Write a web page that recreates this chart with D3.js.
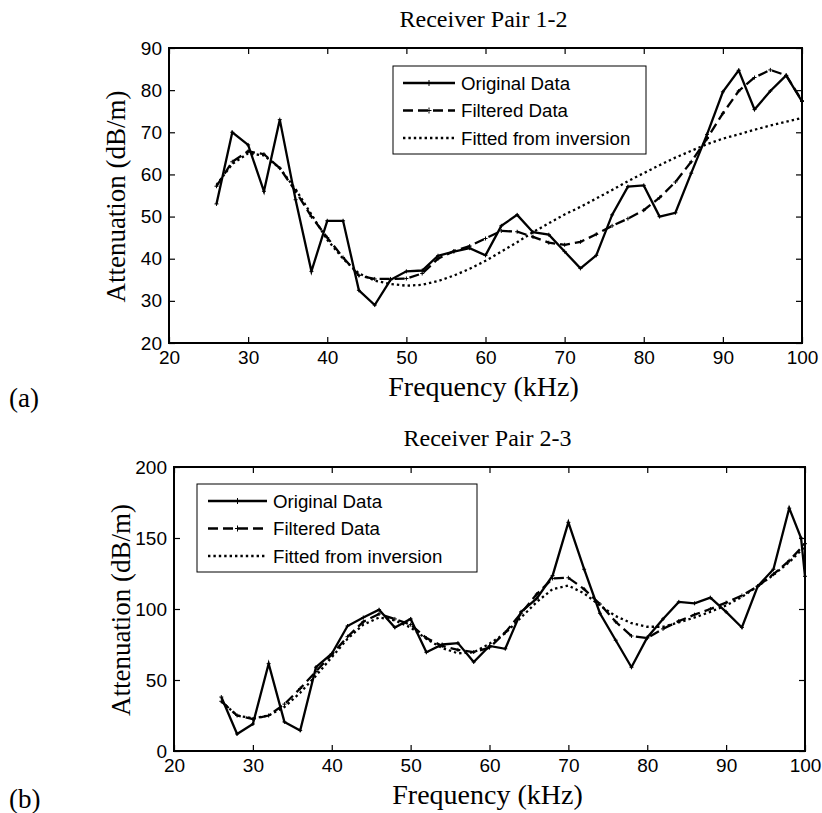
<!DOCTYPE html>
<html>
<head>
<meta charset="utf-8">
<script src="https://cdn.jsdelivr.net/npm/d3@7"></script>
<style>
  body { margin: 0; background: #fff; }
  svg { display: block; }
  .tick-label { font-family: "Liberation Sans", Arial, sans-serif; font-size: 19px; fill: #000; }
  .serif { font-family: "Liberation Serif", "Times New Roman", serif; fill: #000; }
  .legend-text { font-family: "Liberation Sans", Arial, sans-serif; font-size: 18.7px; fill: #000; }
</style>
</head>
<body>
<svg id="chart" width="822" height="813"></svg>
<script>
// Panel (a): Receiver Pair 1-2
const freqA = [26, 28, 30, 32, 34, 36, 38, 40, 42, 44, 46, 48, 50, 52, 54, 56, 58, 60, 62,
  64, 66, 68, 70, 72, 74, 76, 78, 80, 82, 84, 86, 88, 90, 92, 94, 96, 98, 100];
const originalA = [53, 70, 67, 56, 73, 54, 37, 49, 49, 32.5, 29, 35, 37, 37.2, 40.7, 41.7, 42.5, 40.8, 47.8,
  50.4, 46.3, 45.7, 41.7, 37.7, 40.8, 50.4, 57.1, 57.4, 50, 50.9, 60.3, 69.5, 79.6, 84.7, 75.4, 79.8, 83.5, 77.3];
const filteredA = [57.2, 63, 65.5, 64.8, 61.5, 56, 50, 45, 40.3, 36, 35.2, 35.2, 35.3, 36.5, 40, 41.8, 43, 44.8, 46.6,
  46.4, 45.2, 43.8, 43.3, 44, 45.8, 47.8, 49.5, 51.5, 54.5, 58.2, 63, 68.5, 74.5, 79.8, 83, 84.8, 83.5, 77.5];
const fittedA = [57.5, 62.5, 65, 64.5, 61.5, 56.5, 50.5, 44.5, 40, 36.5, 34.8, 34, 33.6, 33.8, 34.7, 36, 37.6, 39.5, 41.7,
  43.9, 46.3, 48.4, 50.5, 52.3, 54.3, 56.3, 58.4, 60.3, 62.2, 64, 65.6, 67.2, 68.5, 69.5, 70.6, 71.6, 72.5, 73.4];

// Panel (b): Receiver Pair 2-3
const origFreqB = [26, 28, 30, 32, 34, 36, 38, 40, 42, 44, 46, 48, 50, 52, 54, 56, 58, 60, 62,
  64, 66, 68, 70, 72, 74, 76, 78, 80, 82, 84, 86, 88, 90, 92, 94, 96, 98, 99.5, 100];
const originalB = [38, 12, 19, 61.5, 20.5, 14.5, 59, 68.5, 88, 94, 99.5, 87, 93, 69.5, 75, 76, 62.7, 74, 72,
  98, 107.5, 123.5, 161, 128, 97, 78, 59, 80, 93, 105, 104, 108, 98, 87, 116, 128, 171, 150, 123];
const freqB = [26, 28, 30, 32, 34, 36, 38, 40, 42, 44, 46, 48, 50, 52, 54, 56, 58, 60, 62,
  64, 66, 68, 70, 72, 74, 76, 78, 80, 82, 84, 86, 88, 90, 92, 94, 96, 98, 100];
const filteredB = [35, 25, 22.5, 25, 33, 44, 56, 68, 80.5, 91, 96.5, 93, 89, 79.5, 74, 71.2, 69.7, 72.8, 83.5,
  97, 110.5, 121.5, 122, 114, 103.5, 91, 81, 79.5, 86, 91.5, 96, 100, 104.5, 109.5, 116, 124.5, 134, 146];
const fittedB = [35, 25, 23, 25, 31, 41, 53, 66, 79, 89, 94, 92, 87, 79, 72.5, 68.8, 69.5, 75.5, 83,
  94, 105, 114, 116.5, 111, 102.5, 95, 90, 87.5, 87.5, 90.5, 94, 98, 102.5, 108.5, 116, 124, 133, 144];

const xTicks = [20, 30, 40, 50, 60, 70, 80, 90, 100];
const yTicksA = [20, 30, 40, 50, 60, 70, 80, 90];
const yTicksB = [0, 50, 100, 150, 200];
const legendLabels = ['Original Data', 'Filtered Data', 'Fitted from inversion'];

const svg = d3.select('#chart');

const styles = [
  { dash: null, marker: true },
  { dash: '10,5', marker: true },
  { dash: '2.4,3', marker: false }
];

function drawPanel(cfg) {
  const x = d3.scaleLinear().domain([20, 100]).range([cfg.left, cfg.right]);
  const y = d3.scaleLinear().domain(cfg.yDomain).range([cfg.bottom, cfg.top]);
  const g = svg.append('g');

  // title
  g.append('text').attr('class', 'serif')
    .attr('x', (cfg.left + cfg.right) / 2 - 2).attr('y', cfg.top - 21)
    .attr('text-anchor', 'middle').style('font-size', '24px')
    .text(cfg.title);

  // axes (MATLAB style, ticks inward on all sides)
  const tickLen = 6;
  g.append('g').attr('transform', `translate(0,${cfg.bottom})`)
    .call(d3.axisBottom(x).tickValues(xTicks).tickSize(-tickLen).tickPadding(8))
    .call(a => a.select('.domain').remove());
  g.append('g').attr('transform', `translate(0,${cfg.top})`)
    .call(d3.axisTop(x).tickValues(xTicks).tickSize(-tickLen).tickFormat(''))
    .call(a => a.select('.domain').remove());
  g.append('g').attr('transform', `translate(${cfg.left},0)`)
    .call(d3.axisLeft(y).tickValues(cfg.yTicks).tickSize(-tickLen).tickPadding(7))
    .call(a => a.select('.domain').remove());
  g.append('g').attr('transform', `translate(${cfg.right},0)`)
    .call(d3.axisRight(y).tickValues(cfg.yTicks).tickSize(-tickLen).tickFormat(''))
    .call(a => a.select('.domain').remove());
  g.selectAll('.tick line').attr('stroke', '#000').attr('stroke-width', 1.2);
  g.selectAll('.tick text').attr('class', 'tick-label').attr('font-size', null).attr('font-family', null);

  g.append('rect')
    .attr('x', cfg.left).attr('y', cfg.top)
    .attr('width', cfg.right - cfg.left).attr('height', cfg.bottom - cfg.top)
    .attr('fill', 'none').attr('stroke', '#000').attr('stroke-width', 2);

  // axis labels
  g.append('text').attr('class', 'serif')
    .attr('x', (cfg.left + cfg.right) / 2 - 2).attr('y', cfg.bottom + 53)
    .attr('text-anchor', 'middle').style('font-size', '28px')
    .text('Frequency (kHz)');
  g.append('text').attr('class', 'serif')
    .attr('transform', `translate(${cfg.left - 44},${(cfg.top + cfg.bottom) / 2 + 1}) rotate(-90)`)
    .attr('text-anchor', 'middle').style('font-size', '27px')
    .text('Attenuation (dB/m)');
  g.append('text').attr('class', 'serif')
    .attr('x', 9).attr('y', cfg.panelY)
    .style('font-size', '27px')
    .text(cfg.panelLabel);

  // series
  const line = d3.line().x(d => x(d[0])).y(d => y(d[1]));
  cfg.series.forEach((s, i) => {
    const pts = s.freq.map((f, j) => [f, s.values[j]]);
    g.append('path').datum(pts)
      .attr('d', line)
      .attr('fill', 'none').attr('stroke', '#000')
      .attr('stroke-width', 2.3)
      .attr('stroke-linejoin', 'miter')
      .attr('stroke-dasharray', styles[i].dash);
    if (styles[i].marker) {
      g.append('g').selectAll('path').data(pts).enter().append('path')
        .attr('d', d => `M${x(d[0]) - 2},${y(d[1])}h4M${x(d[0])},${y(d[1]) - 2}v4`)
        .attr('stroke', '#000').attr('stroke-width', 1);
    }
  });

  // legend
  const L = cfg.legend;
  g.append('rect')
    .attr('x', L.x).attr('y', L.y).attr('width', L.w).attr('height', L.h)
    .attr('fill', '#fff').attr('stroke', '#000').attr('stroke-width', 1);
  legendLabels.forEach((lab, i) => {
    const cy = L.y + 17 + i * 27.5;
    g.append('line')
      .attr('x1', L.x + L.lineStart).attr('x2', L.x + L.lineEnd)
      .attr('y1', cy).attr('y2', cy)
      .attr('stroke', '#000').attr('stroke-width', 2.3)
      .attr('stroke-dasharray', styles[i].dash);
    if (styles[i].marker) {
      const mx = L.x + (L.lineStart + L.lineEnd) / 2;
      g.append('path').attr('d', `M${mx - 2.5},${cy}h5M${mx},${cy - 3}v6`)
        .attr('stroke', '#000').attr('stroke-width', 1);
    }
    g.append('text').attr('class', 'legend-text')
      .attr('x', L.x + L.textX).attr('y', cy).attr('dy', '0.35em')
      .text(lab);
  });
}

drawPanel({
  left: 169, right: 802, top: 48, bottom: 343,
  yDomain: [20, 90], yTicks: yTicksA,
  title: 'Receiver Pair 1-2', panelLabel: '(a)', panelY: 407,
  series: [
    { freq: freqA, values: originalA },
    { freq: freqA, values: filteredA },
    { freq: freqA, values: fittedA }
  ],
  legend: { x: 393, y: 66, w: 253, h: 88, lineStart: 10, lineEnd: 62, textX: 68 }
});

drawPanel({
  left: 174, right: 805, top: 467, bottom: 751,
  yDomain: [0, 200], yTicks: yTicksB,
  title: 'Receiver Pair 2-3', panelLabel: '(b)', panelY: 808,
  series: [
    { freq: origFreqB, values: originalB },
    { freq: freqB, values: filteredB },
    { freq: freqB, values: fittedB }
  ],
  legend: { x: 197, y: 484, w: 280, h: 88, lineStart: 11, lineEnd: 70, textX: 76 }
});
</script>
</body>
</html>
